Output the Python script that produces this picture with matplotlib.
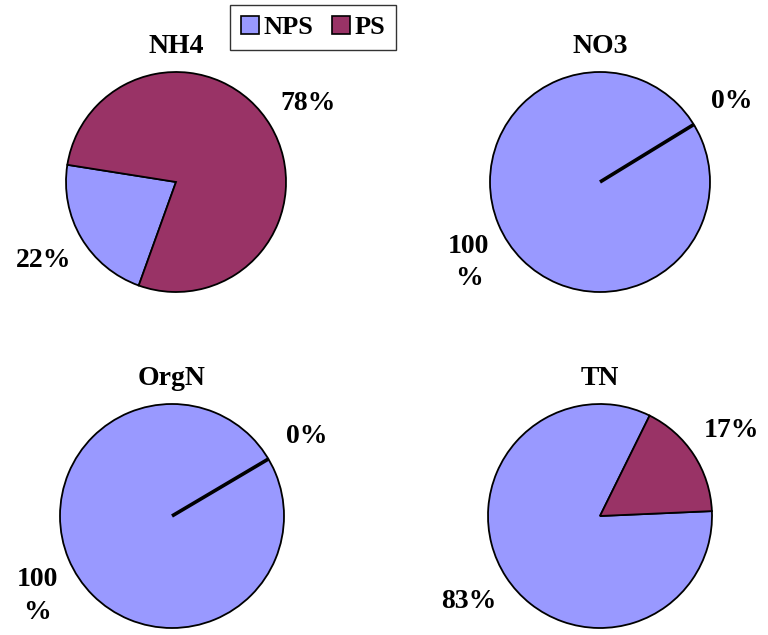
import matplotlib.pyplot as plt
from matplotlib.patches import Patch

plt.rcParams['font.family'] = ['Liberation Serif', 'DejaVu Serif']
plt.rcParams['font.weight'] = 'bold'

sources = ['NPS', 'PS']
colors = ['#9999FF', '#993366']

titles = ['NH4', 'NO3', 'OrgN', 'TN']
nps_share = [22, 100, 100, 83]
ps_share = [78, 0, 0, 17]
nps_labels = ['22%', '100\n%', '100\n%', '83%']
ps_labels = ['78%', '0%', '0%', '17%']
start_angles = [171, 31.5, 30.6, 63.7]

W, H = 768, 635
# pie centre (px) and radius (px), top-left origin
centres = [(176, 182, 110), (600, 182, 110), (172, 516, 112), (600, 516, 112)]

fig = plt.figure(figsize=(W / 100, H / 100), dpi=100)

for i, title in enumerate(titles):
    cx, cy, r = centres[i]
    ax = fig.add_axes([(cx - r) / W, (H - cy - r) / H, 2 * r / W, 2 * r / H])
    wedges, texts = ax.pie([nps_share[i], ps_share[i]],
                           labels=[nps_labels[i], ps_labels[i]],
                           colors=colors, startangle=start_angles[i],
                           counterclock=True, labeldistance=1.4,
                           wedgeprops=dict(edgecolor='black', linewidth=1.3),
                           textprops=dict(fontsize=20, fontweight='bold',
                                          ha='center', va='center',
                                          linespacing=1.4))
    # a zero share shows up as a heavier radial line
    for w, v in zip(wedges, [nps_share[i], ps_share[i]]):
        if v == 0:
            w.set_linewidth(2.6)
    ax.set_xlim(-1, 1)
    ax.set_ylim(-1, 1)
    ax.set_aspect('equal')
    ax.set_title(title, fontsize=20, fontweight='bold', pad=14)

handles = [Patch(facecolor=c, edgecolor='black', linewidth=1.2) for c in colors]
leg = fig.legend(handles, sources, loc='upper center',
                 bbox_to_anchor=(313 / W, 1 - 5 / H),
                 ncol=2, fontsize=19, frameon=True, fancybox=False,
                 handlelength=0.7, handleheight=0.7, handletextpad=0.15,
                 columnspacing=0.7, borderpad=0.4, borderaxespad=0)
leg.get_frame().set_edgecolor('black')
leg.get_frame().set_linewidth(1.0)
for t in leg.get_texts():
    t.set_fontweight('bold')

plt.savefig('out.png', dpi=100)
